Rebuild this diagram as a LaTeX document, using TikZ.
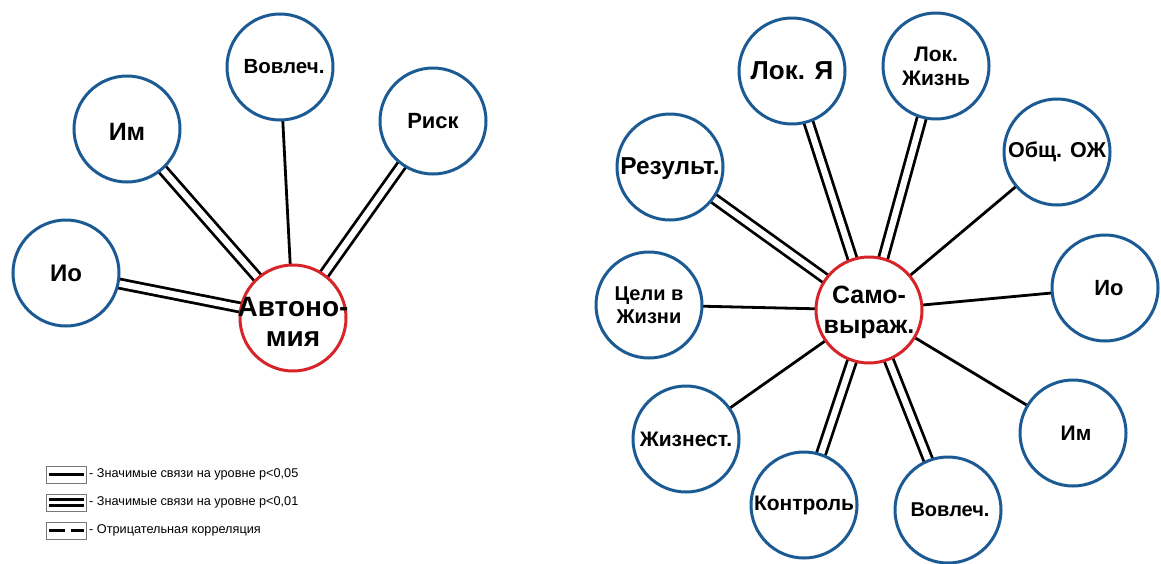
\documentclass[tikz,border=0pt]{standalone}
\usepackage{fontspec}
\setmainfont{Liberation Sans}
\usetikzlibrary{backgrounds}
\definecolor{bblue}{RGB}{28,90,148}
\definecolor{rred}{RGB}{214,36,40}
\definecolor{lgray}{RGB}{120,120,120}
\begin{document}
\begin{tikzpicture}[x=1pt,y=-1pt,
  bub/.style={circle,draw=bblue,fill=white,line width=3pt,minimum size=106pt,inner sep=0pt},
  cen/.style={bub,draw=rred},
  sgl/.style={line width=2.8pt,black},
  dbl/.style={line width=2.8pt,draw=black,double=white,double distance=6.3pt},
  t/.style 2 args={font={\bfseries\fontsize{#1}{#2}\selectfont},align=center,inner sep=0pt,text=black},
  leg/.style={font={\fontsize{12.7}{15}\selectfont},anchor=west,inner sep=0pt},
  legbox/.style={draw=lgray,line width=0.7pt}
]
\useasboundingbox (0,0) rectangle (1161,563);

% ---------- left diagram ----------
\node[bub] (lio) at (66,273) {};
\node[bub] (lim) at (127,129) {};
\node[bub] (lvov) at (280,67) {};
\node[bub] (lrisk) at (433,121) {};
\node[cen] (aut) at (293,318) {};

\node[t={24}{28}] (lio-t) at (lio) {Ио};
\node[t={25}{29}] (lim-t) at ([yshift=-3pt]lim.center) {Им};
\node[t={20.5}{24}] (lvov-t) at ([xshift=4pt]lvov.center) {Вовлеч.};
\node[t={22}{26}] (lrisk-t) at (lrisk) {Риск};
\node[t={28}{29.5}] (aut-t) at ([yshift=-4pt]aut.center) {Автоно-\\мия};

\begin{pgfonlayer}{background}
\draw[dbl] (lio.center) -- (aut.center);
\draw[dbl] (lim.center) -- (aut.center);
\draw[sgl] (lvov.center) -- (aut.center);
\draw[dbl] (lrisk.center) -- (aut.center);
\end{pgfonlayer}

% ---------- right diagram ----------
\node[cen] (sam) at (869,310) {};
\node[bub] (lokya) at (792,71) {};
\node[bub] (lokzh) at (936,66) {};
\node[bub] (obsh) at (1057,152) {};
\node[bub] (rio) at (1105,288) {};
\node[bub] (rim) at (1073,433) {};
\node[bub] (rvov) at (948,510) {};
\node[bub] (kon) at (804,505) {};
\node[bub] (zhiz) at (686,439) {};
\node[bub] (celi) at (649,305) {};
\node[bub] (res) at (670,167) {};

\node[t={25}{30}] (sam-t) at ([yshift=-2pt]sam.center) {Само-\\выраж.};
\node[t={26}{30}] (lokya-t) at (lokya) {Лок. Я};
\node[t={21}{24}] (lokzh-t) at (lokzh) {Лок.\\Жизнь};
\node[t={21.5}{25}] (obsh-t) at (obsh) {Общ. ОЖ};
\node[t={22}{26}] (rio-t) at ([xshift=4pt]rio.center) {Ио};
\node[t={21}{25}] (rim-t) at ([xshift=3pt]rim.center) {Им};
\node[t={20}{24}] (rvov-t) at ([xshift=2pt]rvov.center) {Вовлеч.};
\node[t={21}{25}] (kon-t) at (kon) {Контроль};
\node[t={21}{25}] (zhiz-t) at ([xshift=0pt]zhiz.center) {Жизнест.};
\node[t={20}{23.5}] (celi-t) at (celi) {Цели в\\Жизни};
\node[t={24.5}{28}] (res-t) at ([yshift=-2pt]res.center) {Результ.};

\begin{pgfonlayer}{background}
\draw[dbl] (res.center) -- (sam.center);
\draw[dbl] (lokya.center) -- (sam.center);
\draw[dbl] (lokzh.center) -- (sam.center);
\draw[sgl] (obsh.center) -- (sam.center);
\draw[sgl] (rio.center) -- (sam.center);
\draw[sgl] (rim.center) -- (sam.center);
\draw[dbl] (rvov.center) -- (sam.center);
\draw[dbl] (kon.center) -- (sam.center);
\draw[sgl] (zhiz.center) -- (sam.center);
\draw[sgl] (celi.center) -- (sam.center);
\end{pgfonlayer}

% ---------- legend ----------
\draw[legbox] (46,466) rectangle (86,483);
\draw[line width=3pt] (48.5,474.5) -- (83.5,474.5);
\node[leg] (leg1) at (89,474.5) {- Значимые связи на уровне p<0,05};

\draw[legbox] (46,494) rectangle (86,511);
\draw[line width=2.6pt,double=white,double distance=3.6pt] (48.5,502.5) -- (83.5,502.5);
\node[leg] (leg2) at (89,502.5) {- Значимые связи на уровне p<0,01};

\draw[legbox] (46,522) rectangle (86,539);
\draw[line width=3pt,dash pattern=on 16pt off 6pt] (49,530.5) -- (84,530.5);
\node[leg] (leg3) at (89,530.5) {- Отрицательная корреляция};
\end{tikzpicture}
\end{document}
